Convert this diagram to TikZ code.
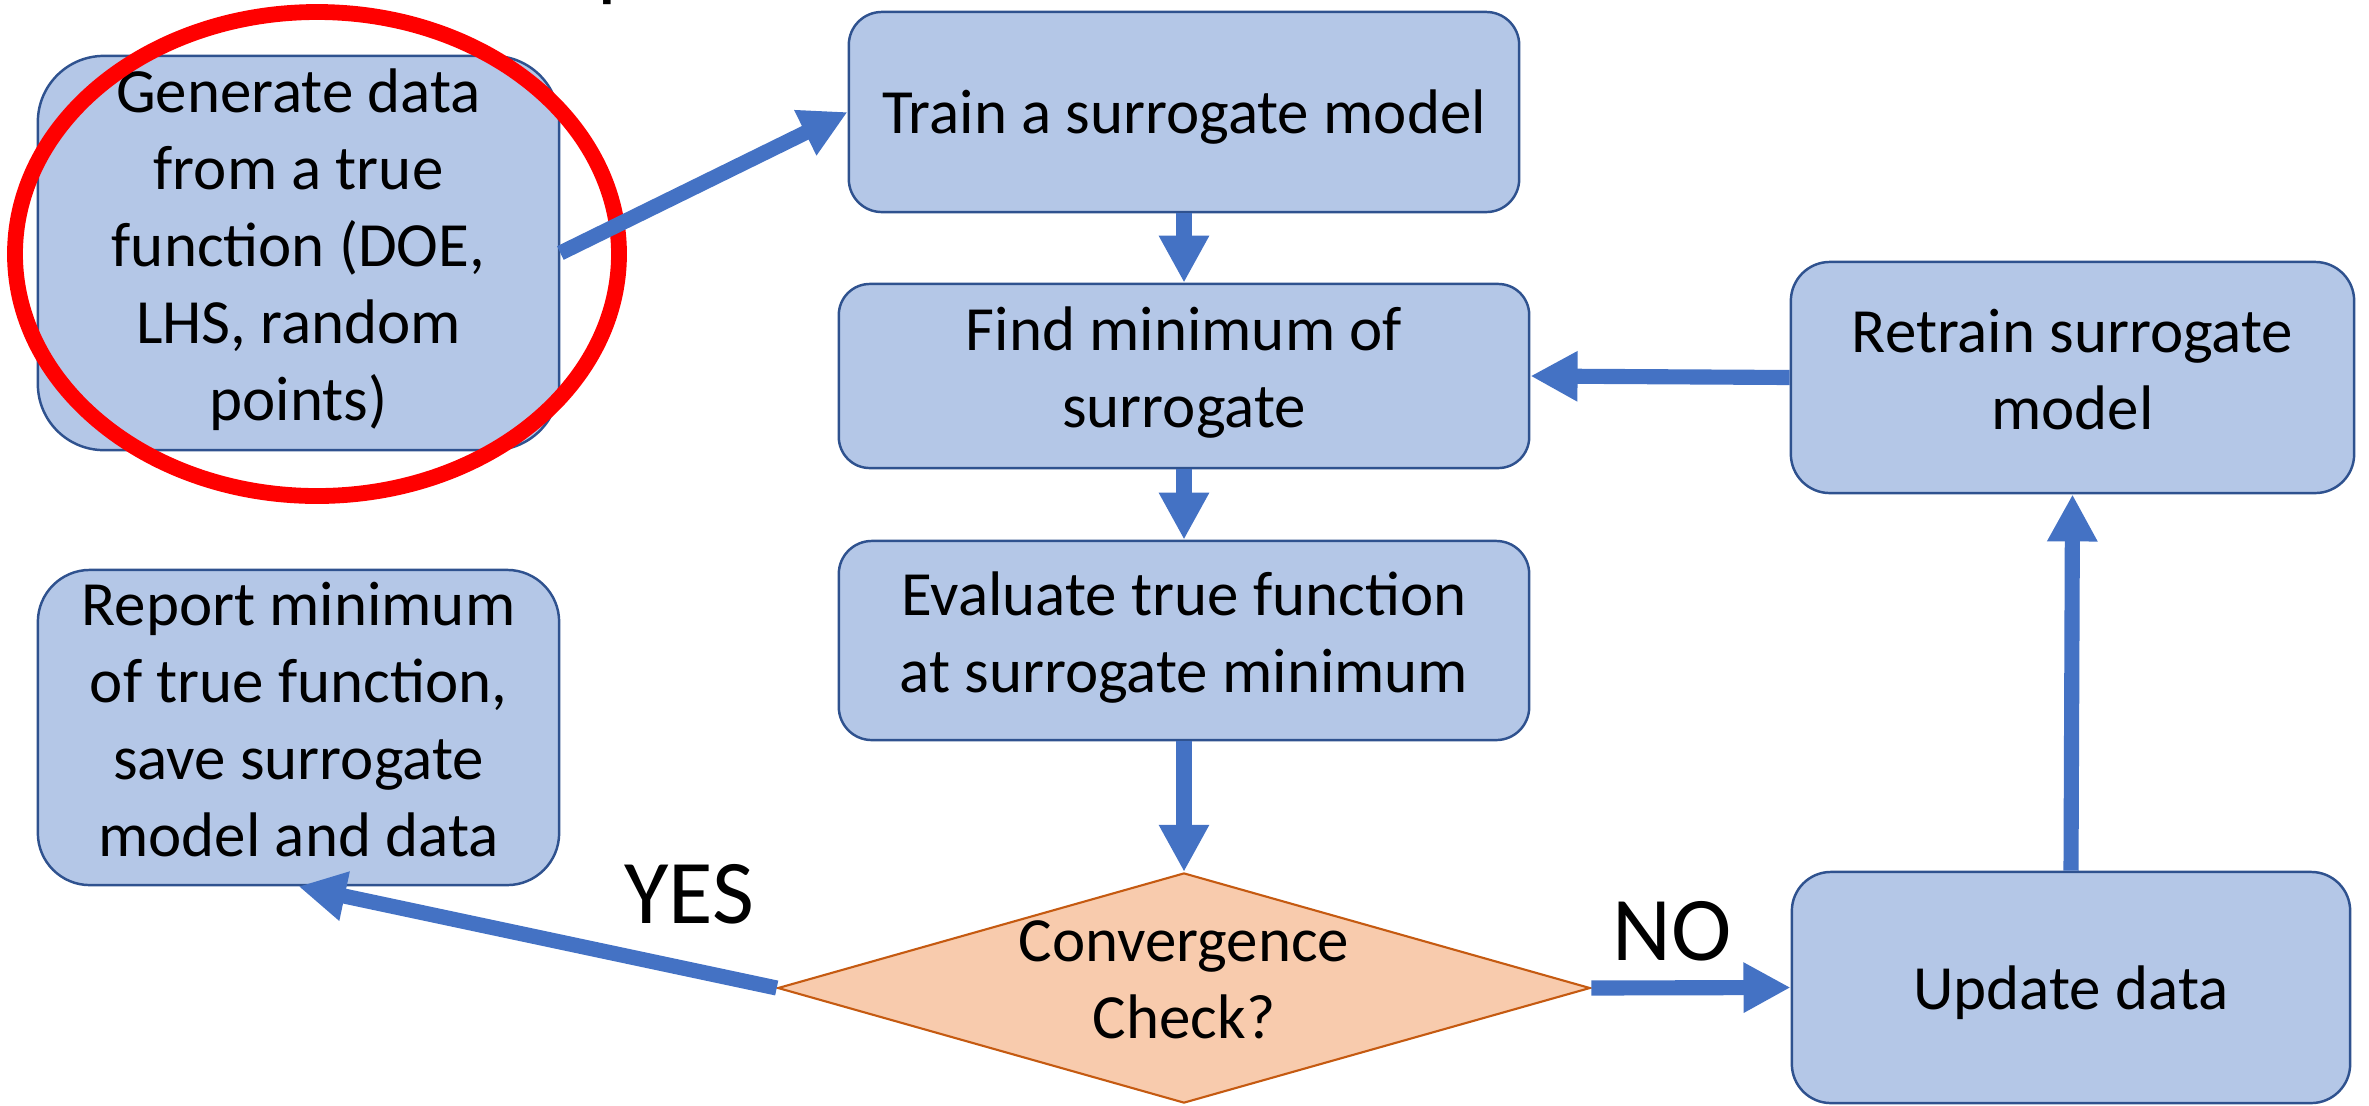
\documentclass[tikz,border=0pt]{standalone}
\usepackage{fontspec}
\setmainfont{Carlito}
\usetikzlibrary{arrows.meta,shapes.geometric}
\definecolor{boxfill}{HTML}{B4C7E7}
\definecolor{boxline}{HTML}{2F528F}
\definecolor{chkfill}{HTML}{F8CBAD}
\definecolor{chkline}{HTML}{C55A11}
\definecolor{flow}{HTML}{4472C4}
\newcommand{\linestrut}{\rule[-0.17cm]{0pt}{0.77cm}}

\begin{document}
\begin{tikzpicture}[x=0.01cm, y=0.01cm]
        \tikzstyle{every node}+=[inner sep=0pt]
        \tikzstyle{stepbox}=[draw=boxline, fill=boxfill, line width=0.7pt, align=center, font=\fontsize{17.9}{21.9}\selectfont, execute at begin node=\linestrut, execute at end node=\linestrut]
        \tikzstyle{checkbox}=[diamond, draw=chkline, fill=chkfill, line width=0.6pt, align=center, inner sep=-0.6cm, font=\fontsize{17.9}{21.9}\selectfont, execute at begin node=\linestrut, execute at end node=\linestrut]
        \tikzstyle{flowarrow}=[draw=flow, line width=4.3pt, -{Triangle[length=13.4pt,width=13.4pt]}]
        \tikzstyle{answer}=[font=\fontsize{25.9}{31}\selectfont]
        \useasboundingbox (0,0) rectangle (2369,-1105);
        \node[font=\fontsize{25}{30}\selectfont, anchor=base west] (title) at (597,10) {p};
        \node[stepbox, rounded corners=0.66cm, minimum width=5.21cm, minimum height=3.94cm] (gen) at (298.5,-253) {Generate data\\from a true\\function (DOE,\\LHS, random\\points)};
        \node[stepbox, rounded corners=0.33cm, minimum width=6.7cm, minimum height=2cm] (train) at (1184,-112) {Train a surrogate model};
        \node[stepbox, rounded corners=0.31cm, minimum width=6.9cm, minimum height=1.84cm] (find) at (1184,-376) {Find minimum of\\surrogate};
        \node[stepbox, rounded corners=0.33cm, minimum width=6.9cm, minimum height=1.99cm] (eval) at (1184,-640.5) {Evaluate true function\\at surrogate minimum};
        \node[checkbox, minimum width=8.12cm, minimum height=2.3cm] (check) at (1184,-988) {Convergence\\Check?};
        \node[stepbox, rounded corners=0.39cm, minimum width=5.63cm, minimum height=2.31cm] (retrain) at (2072.5,-377.5) {Retrain surrogate\\model};
        \node[stepbox, rounded corners=0.39cm, minimum width=5.58cm, minimum height=2.31cm] (update) at (2071,-987.5) {Update data};
        \node[stepbox, rounded corners=0.52cm, minimum width=5.21cm, minimum height=3.15cm] (report) at (298.5,-727.5) {Report minimum\\of true function,\\save surrogate\\model and data};
        \draw[red, line width=4.5pt] (317,-254) ellipse (302 and 242);
        \draw[flowarrow] (gen.east) -- (train.west);
        \draw[flowarrow] (train.south) -- (find.north);
        \draw[flowarrow] (find.south) -- (eval.north);
        \draw[flowarrow] (eval.south) -- (check.north);
        \draw[flowarrow] (check.west) -- (report.south);
        \draw[flowarrow] (check.east) -- (update.west);
        \draw[flowarrow] (update.north) -- (retrain.south);
        \draw[flowarrow] (retrain.west) -- (find.east);
        \node[answer] (yes) at (689,-894) {YES};
        \node[answer] (no) at (1672,-931) {NO};
\end{tikzpicture}
\end{document}
